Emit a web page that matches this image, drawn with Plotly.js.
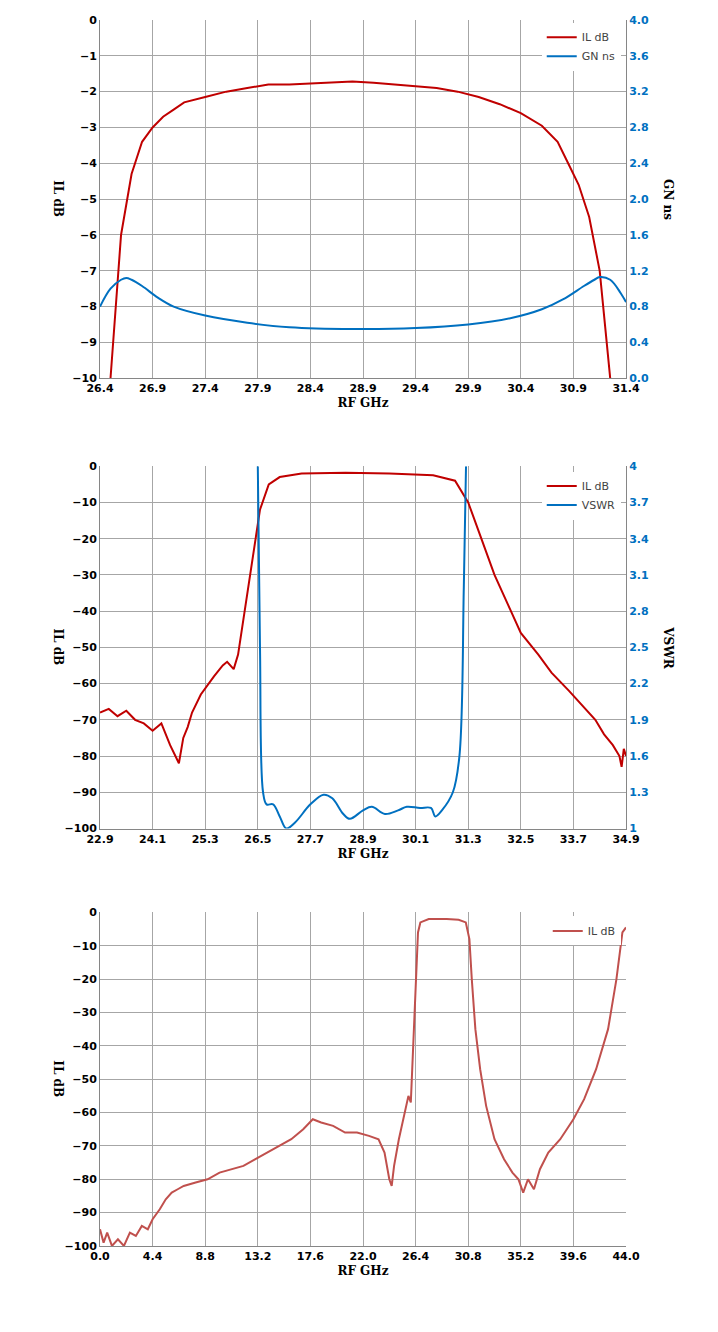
<!DOCTYPE html>
<html>
<head>
<script src="https://cdn.plot.ly/plotly-3.0.1.min.js"></script>
<style>body{margin:0;background:#fff}#chart{width:718px;height:1332px}</style>
</head>
<body>
<div id="chart"></div>
<script>
// chart 1: passband IL and group delay
var f1 = [26.5, 26.6, 26.7, 26.8, 26.9, 27.0, 27.1, 27.2, 27.4, 27.6, 27.8, 28.0, 28.2, 28.4, 28.6, 28.8, 29.0, 29.2, 29.4, 29.6, 29.8, 30.0, 30.2, 30.4, 30.6, 30.75, 30.85, 30.95, 31.05, 31.15, 31.2, 31.25];
var il1 = [-10, -6, -4.3, -3.4, -3.0, -2.7, -2.5, -2.3, -2.15, -2.0, -1.9, -1.8, -1.8, -1.78, -1.75, -1.72, -1.75, -1.8, -1.85, -1.9, -2.0, -2.15, -2.35, -2.6, -2.95, -3.4, -4.0, -4.6, -5.5, -7, -8.5, -10];
var fgd = [26.4, 26.5, 26.6, 26.65, 26.7, 26.8, 26.95, 27.1, 27.4, 27.8, 28.2, 28.8, 29.4, 29.9, 30.3, 30.6, 30.8, 31.0, 31.1, 31.15, 31.25, 31.35, 31.4];
var gd = [0.8, 1.0, 1.1, 1.12, 1.1, 1.03, 0.9, 0.8, 0.7, 0.62, 0.57, 0.55, 0.56, 0.6, 0.67, 0.77, 0.88, 1.03, 1.1, 1.13, 1.1, 0.95, 0.85];

// chart 2: wideband IL and VSWR
var f2 = [22.9, 23.1, 23.3, 23.5, 23.7, 23.9, 24.1, 24.3, 24.5, 24.7, 24.8, 24.9, 25.0, 25.2, 25.5, 25.7, 25.8, 25.95, 26.05, 26.2, 26.4, 26.55, 26.75, 27.0, 27.5, 28.5, 29.5, 30.5, 31.0, 31.3, 31.6, 31.9, 32.2, 32.5, 32.9, 33.2, 33.6, 33.9, 34.2, 34.4, 34.6, 34.75, 34.8, 34.85, 34.9];
var il2 = [-68, -67, -69, -67.5, -70, -71, -73, -71, -77, -82, -75, -72, -68, -63, -58, -55, -54, -56, -52, -40, -25, -12, -5, -3, -2, -1.8, -2, -2.5, -4, -10, -20, -30, -38, -46, -52, -57, -62, -66, -70, -74, -77, -80, -83, -78, -80];
var fvs = [26.5, 26.55, 26.62, 26.7, 26.85, 27.0, 27.15, 27.35, 27.7, 28.0, 28.2, 28.45, 28.6, 28.9, 29.1, 29.4, 29.7, 29.9, 30.2, 30.45, 30.55, 30.7, 30.95, 31.1, 31.2, 31.25];
var vswr = [4, 2.5, 1.3, 1.2, 1.2, 1.1, 1.0, 1.05, 1.2, 1.28, 1.25, 1.12, 1.08, 1.15, 1.18, 1.12, 1.15, 1.18, 1.17, 1.17, 1.1, 1.15, 1.3, 1.6, 3, 4];

// chart 3: 0-44 GHz sweep
var f3 = [0, 0.3, 0.6, 1, 1.5, 2, 2.5, 3, 3.5, 4, 4.4, 5, 5.5, 6, 6.5, 7, 8, 9, 10, 11, 12, 13, 14, 15, 16, 17, 17.8, 18.5, 19.5, 20.5, 21.5, 22.5, 23.3, 23.8, 24.2, 24.4, 24.6, 25, 25.5, 25.8, 26, 26.2, 26.4, 26.6, 26.8, 27.5, 29, 30, 30.6, 30.9, 31.1, 31.4, 31.8, 32.3, 33, 33.8, 34.5, 35, 35.4, 35.8, 36.3, 36.8, 37.5, 38.5, 39.6, 40.5, 41.5, 42.5, 43.2, 43.7, 44];
var il3 = [-95, -99, -96, -100, -98, -100, -96, -97, -94, -95, -92, -89, -86, -84, -83, -82, -81, -80, -78, -77, -76, -74, -72, -70, -68, -65, -62, -63, -64, -66, -66, -67, -68, -72, -80, -82, -76, -68, -60, -55, -57, -40, -20, -6, -3, -2, -2, -2.2, -3, -8, -20, -35, -47, -58, -68, -74, -78, -80, -84, -80, -83, -77, -72, -68, -62, -56, -47, -35, -20, -6, -4.5];

var dark = '#c00000', blue = '#0070c0', light = '#c0504d';
var tf = {family: 'DejaVu Sans', size: 11, color: '#000', weight: 'bold'};
var bf = {family: 'DejaVu Sans', size: 11, color: blue, weight: 'bold'};
var titf = {family: 'DejaVu Serif', size: 12, color: '#000', weight: 'bold'};

function xax(r, dt, anchor, fmt) {
  return {range: r, dtick: dt, tick0: r[0], anchor: anchor, showgrid: true, gridcolor: '#a6a6a6',
    linecolor: '#868686', ticks: '', tickfont: tf, zeroline: false, tickformat: fmt,
    title: {text: 'RF GHz', font: titf, standoff: 4}};
}
function yax(r, dt, dom, anchor) {
  return {range: r, dtick: dt, domain: dom, anchor: anchor, showgrid: true, gridcolor: '#a6a6a6',
    linecolor: '#868686', ticks: '', tickfont: tf, zeroline: false};
}
function ytitle(text, x, dom) {
  return {text: text, textangle: 90, font: titf, showarrow: false, xref: 'paper', yref: 'paper',
    x: x, y: (dom[0] + dom[1]) / 2, xanchor: 'center', yanchor: 'middle'};
}

var data = [
  {x: f1, y: il1, name: 'IL dB', xaxis: 'x', yaxis: 'y', line: {color: dark, width: 2}, mode: 'lines', legend: 'legend'},
  {x: fgd, y: gd, name: 'GN ns', xaxis: 'x', yaxis: 'y2', line: {color: blue, width: 2, shape: 'spline'}, mode: 'lines', legend: 'legend'},
  {x: f2, y: il2, name: 'IL dB', xaxis: 'x2', yaxis: 'y3', line: {color: dark, width: 2}, mode: 'lines', legend: 'legend2'},
  {x: fvs, y: vswr, name: 'VSWR', xaxis: 'x2', yaxis: 'y4', line: {color: blue, width: 2, shape: 'spline'}, mode: 'lines', legend: 'legend2'},
  {x: f3, y: il3, name: 'IL dB', xaxis: 'x3', yaxis: 'y5', line: {color: light, width: 2}, mode: 'lines', legend: 'legend3'}
];

var d1 = [0.716, 0.985], d2 = [0.378, 0.650], d3 = [0.0646, 0.315];
var lf = {family: 'DejaVu Sans', size: 11};
var layout = {
  width: 718, height: 1332, margin: {l: 100, r: 92, t: 0, b: 0},
  paper_bgcolor: '#fff', plot_bgcolor: '#fff',
  xaxis: xax([26.4, 31.4], 0.5, 'y', '.1f'),
  yaxis: yax([-10, 0], 1, d1, 'x'),
  yaxis2: {range: [0, 4], dtick: 0.4, tickformat: '.1f', overlaying: 'y', side: 'right', anchor: 'x', showgrid: false,
    ticks: '', linecolor: '#868686', tickfont: bf},
  xaxis2: xax([22.9, 34.9], 1.2, 'y3', '.1f'),
  yaxis3: yax([-100, 0], 10, d2, 'x2'),
  yaxis4: {range: [1, 4], dtick: 0.3, tick0: 1, overlaying: 'y3', side: 'right', anchor: 'x2', showgrid: false,
    ticks: '', linecolor: '#868686', tickfont: bf},
  xaxis3: xax([0, 44], 4.4, 'y5', '.1f'),
  yaxis5: yax([-100, 0], 10, d3, 'x3'),
  legend: {x: 0.99, y: 0.983, xanchor: 'right', yanchor: 'top', bgcolor: '#fff', font: lf},
  legend2: {x: 0.99, y: 0.646, xanchor: 'right', yanchor: 'top', bgcolor: '#fff', font: lf},
  legend3: {x: 0.99, y: 0.312, xanchor: 'right', yanchor: 'top', bgcolor: '#fff', font: lf},
  showlegend: true,
  annotations: [
    ytitle('IL dB', -0.08, d1), ytitle('GN ns', 1.08, d1),
    ytitle('IL dB', -0.08, d2), ytitle('VSWR', 1.08, d2),
    ytitle('IL dB', -0.08, d3)
  ]
};

Plotly.newPlot('chart', data, layout, {displayModeBar: false, staticPlot: true});
</script>
</body>
</html>
